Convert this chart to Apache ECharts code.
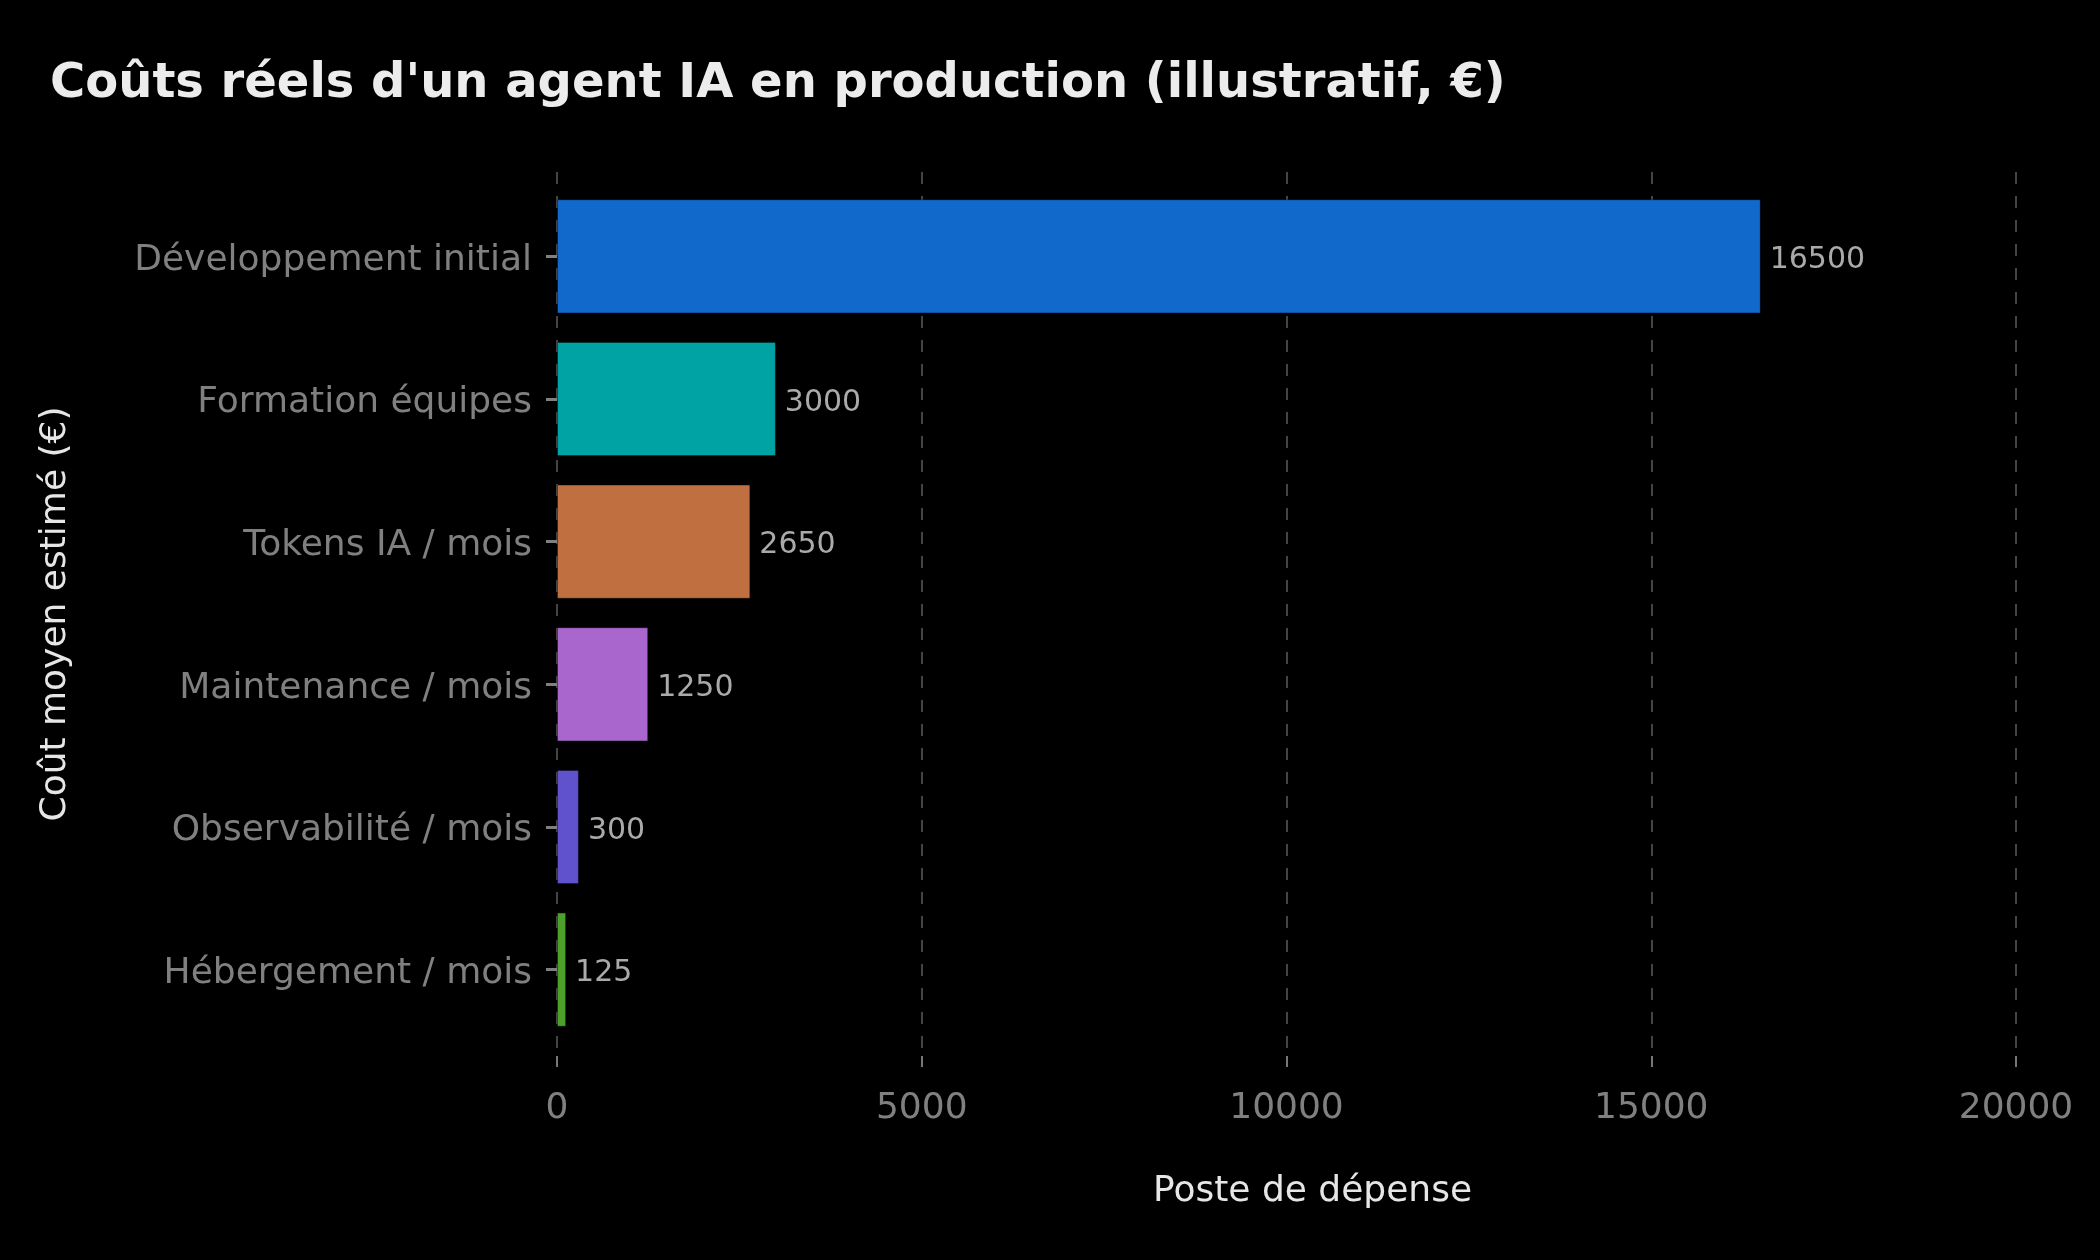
<!DOCTYPE html>
<html>
<head>
<meta charset="utf-8">
<title>Coûts réels d'un agent IA</title>
<script src="https://cdn.jsdelivr.net/npm/echarts@6/dist/echarts.min.js"></script>
<style>
    html, body { margin: 0; padding: 0; background: #000; }
    #chart { width: 2100px; height: 1260px; }
</style>
</head>
<body>
<div id="chart"></div>
<script>
'use strict';

// values
var categories = ['Développement initial', 'Formation équipes', 'Tokens IA / mois',
    'Maintenance / mois', 'Observabilité / mois', 'Hébergement / mois'];
var costs = [16500, 3000, 2650, 1250, 300, 125];
var barColors = ['#1169cc', '#00a3a3', '#c07040', '#a966cc', '#6052cc', '#4da02a'];
var xTicks = [0, 5000, 10000, 15000, 20000];

var font = 'DejaVu Sans, Verdana, sans-serif';
var tickGrey = '#808080';

var chart = echarts.init(document.getElementById('chart'), null, { renderer: 'canvas' });

var barData = costs.map(function (v, i) {
    return { value: v, itemStyle: { color: barColors[i] } };
});

var option = {
    backgroundColor: '#000',
    animation: false,
    textStyle: { fontFamily: font },
    title: {
        text: "Coûts réels d'un agent IA en production (illustratif, €)",
        left: 45,
        top: 56,
        textStyle: { color: '#ececec', fontSize: 48, fontWeight: 'bold', fontFamily: font }
    },
    grid: [
        // bars
        { left: 557, right: 84, top: 185, bottom: 219 },
        // full axes frame (grid lines, x ticks, axis names)
        { left: 557, right: 84, top: 172, bottom: 204 }
    ],
    xAxis: [
        { gridIndex: 0, type: 'value', min: xTicks[0], max: xTicks[xTicks.length - 1], show: false },
        {
            gridIndex: 1,
            type: 'value',
            min: xTicks[0],
            max: xTicks[xTicks.length - 1],
            interval: xTicks[1] - xTicks[0],
            name: 'Poste de dépense',
            nameLocation: 'middle',
            nameGap: 118,
            nameTextStyle: { color: '#e6e6e6', fontSize: 36, fontFamily: font, padding: [0, 0, 0, 52] },
            axisLine: { show: false },
            axisTick: { show: true, length: 11, lineStyle: { color: '#777', width: 2 } },
            axisLabel: {
                color: tickGrey, fontSize: 36, margin: 35, fontFamily: font,
                formatter: function (v) { return String(v); }
            },
            splitLine: { show: true, lineStyle: { color: '#444', width: 2, type: [12, 12] } }
        }
    ],
    yAxis: [
        {
            gridIndex: 0,
            type: 'category',
            data: categories,
            inverse: true,
            axisLine: { show: false },
            axisTick: { show: true, alignWithLabel: true, length: 11, lineStyle: { color: '#808080', width: 3 } },
            axisLabel: {
                margin: 25,
                formatter: function (v) { return '{c|' + v + '}'; },
                rich: {
                    c: { color: tickGrey, fontSize: 36, fontFamily: font, padding: [8, 0, 0, 0] }
                }
            },
            splitLine: { show: false }
        },
        {
            gridIndex: 1,
            type: 'value',
            min: 0,
            max: 1,
            name: 'Coût moyen estimé (€)',
            nameLocation: 'middle',
            nameGap: 483,
            nameTextStyle: { color: '#e6e6e6', fontSize: 36, fontFamily: font },
            axisLine: { show: false },
            axisTick: { show: false },
            axisLabel: { show: false },
            splitLine: { show: false }
        }
    ],
    series: [{
        type: 'bar',
        xAxisIndex: 0,
        yAxisIndex: 0,
        data: barData,
        barCategoryGap: '20%',
        itemStyle: { borderColor: 'rgba(0,0,0,0.35)', borderWidth: 1 },
        label: {
            show: true,
            position: 'right',
            distance: 9,
            offset: [0, 4],
            color: '#aaaaaa',
            fontSize: 30,
            fontFamily: font
        }
    }]
};

chart.setOption(option);
</script>
</body>
</html>
